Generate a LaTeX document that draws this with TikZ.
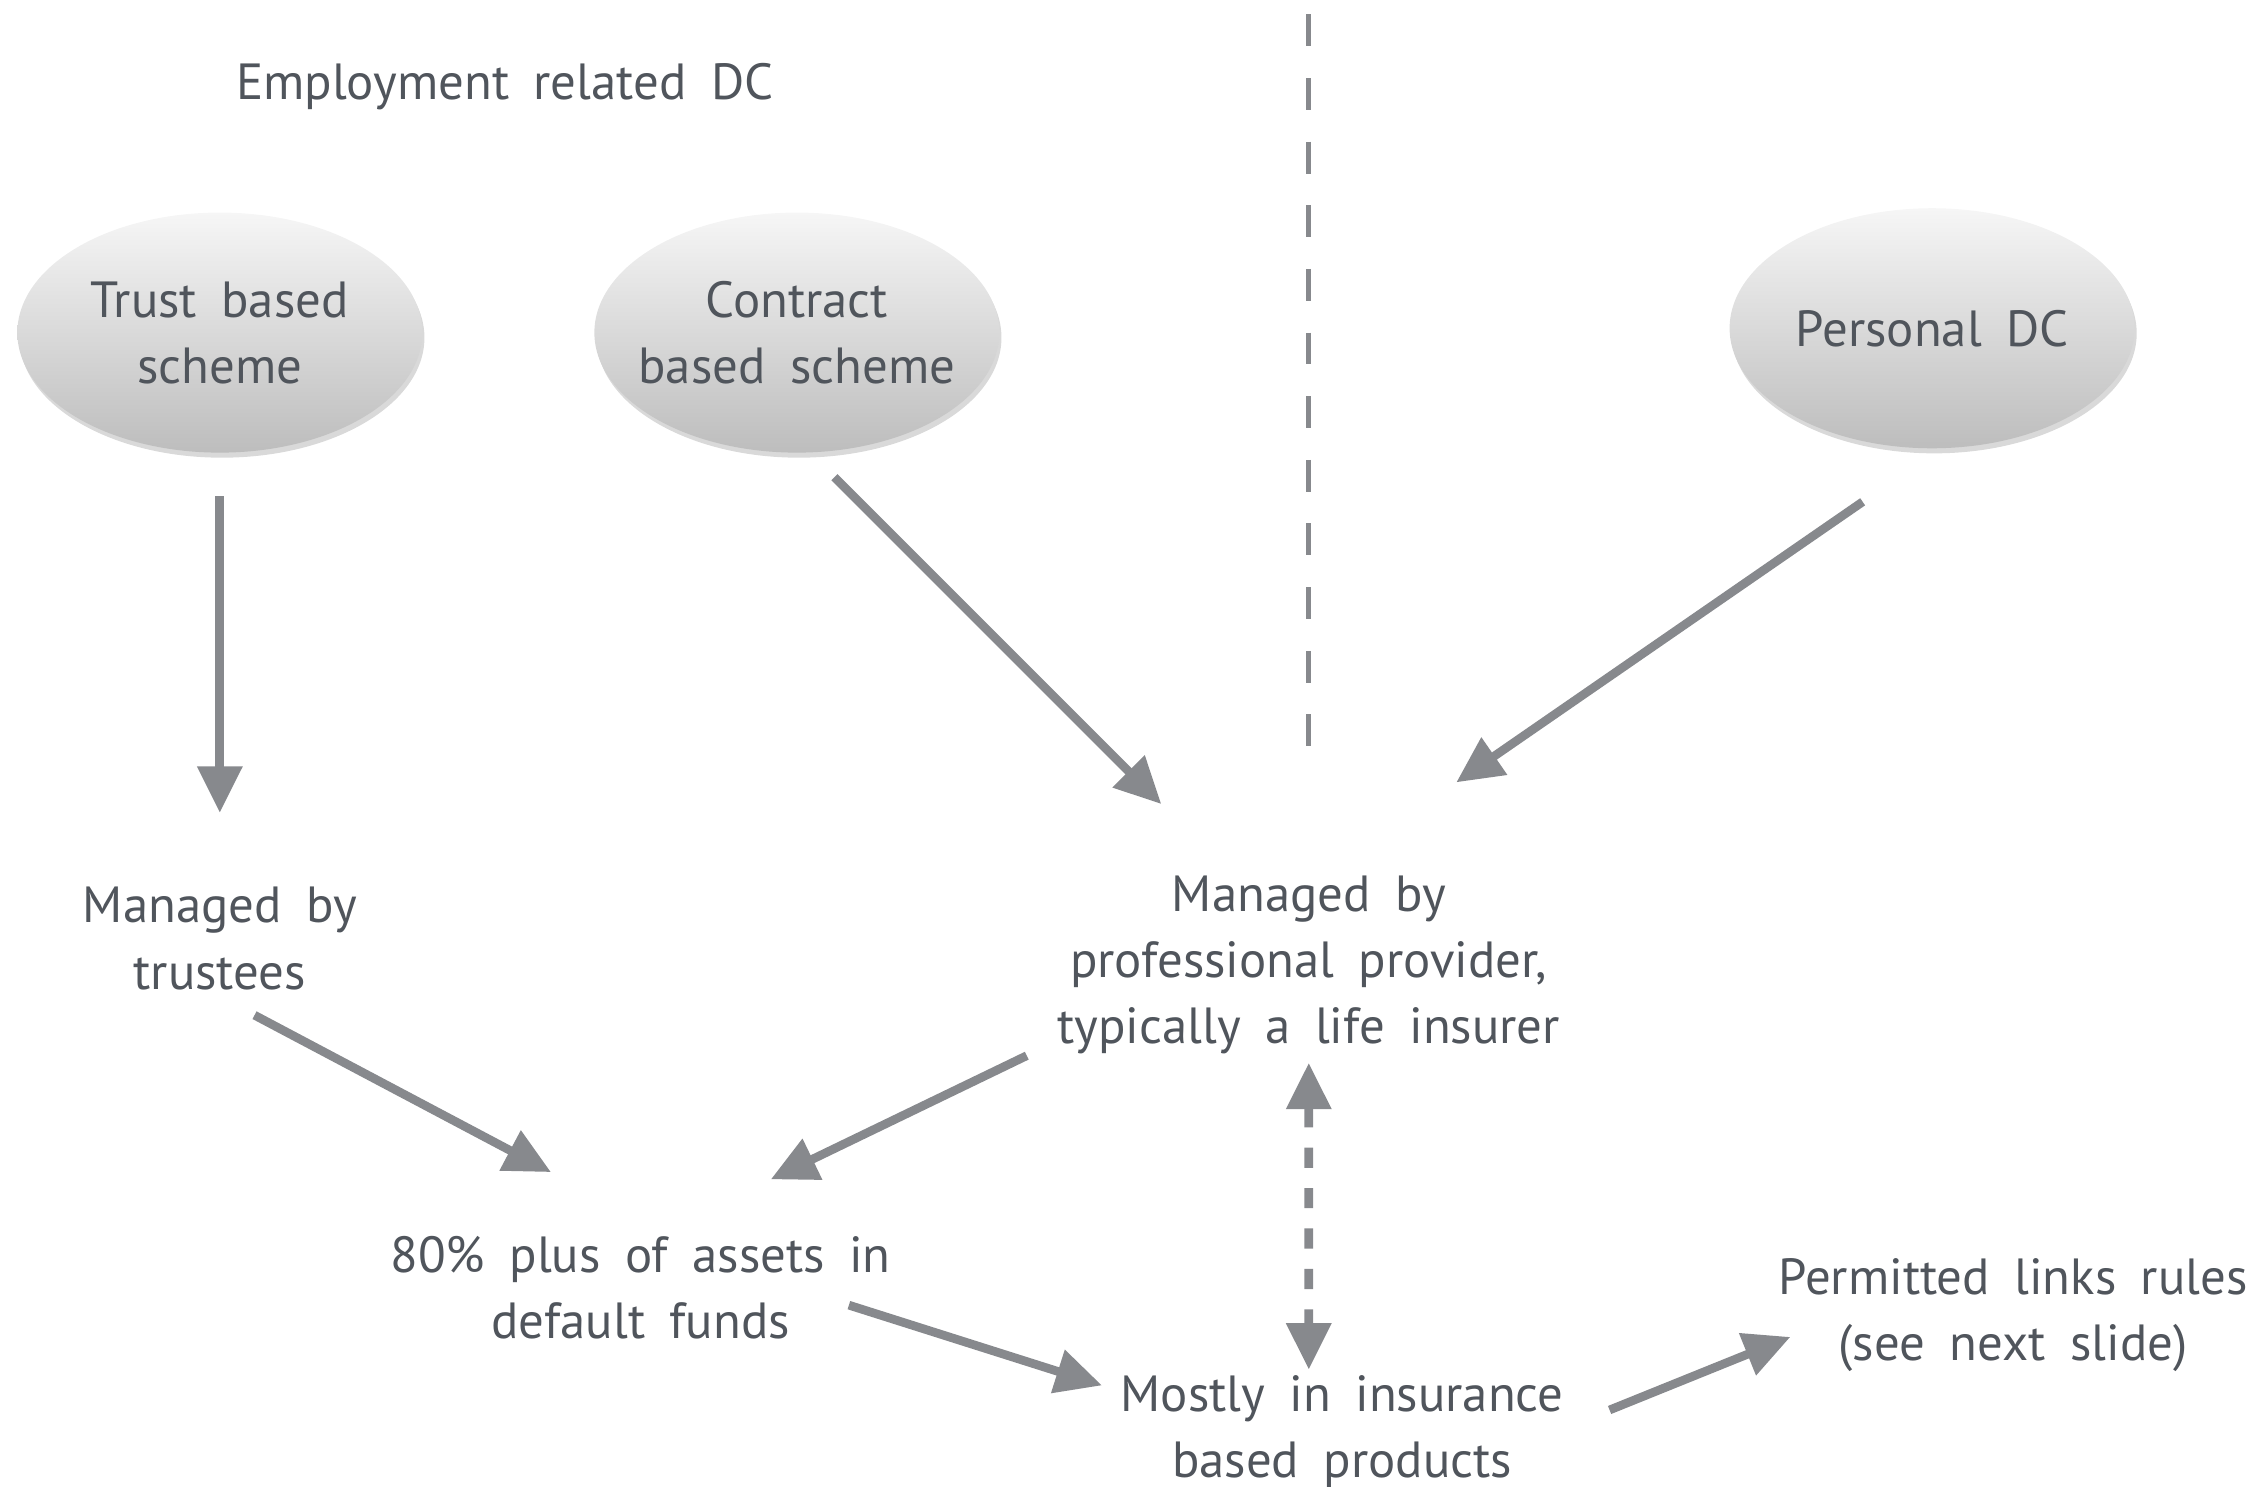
\documentclass[tikz,border=0pt]{standalone}
\usepackage{fontspec}
\setmainfont{PT Sans}[WordSpace=1.8]
\usetikzlibrary{arrows.meta,shadows,shapes.geometric}
\definecolor{txtgray}{HTML}{50555C}
\definecolor{arrgray}{HTML}{87898D}
\definecolor{ovtop}{HTML}{F6F6F6}
\definecolor{ovbot}{HTML}{BDBDBD}

\begin{document}
\begin{tikzpicture}[
		font=\fontsize{20}{26}\selectfont, text=txtgray,
		oval/.style={ellipse, minimum width=5.6cm, minimum height=3.32cm, inner xsep=-0.5cm, inner ysep=0pt, outer sep=0pt,
			top color=ovtop, bottom color=ovbot, align=center,
			drop shadow={opacity=0.3, shadow xshift=0.03cm, shadow yshift=-0.07cm}},
		txt/.style={align=center},
		arr/.style={draw=arrgray, line width=0.12cm, -{Triangle[length=0.64cm,width=0.6cm]}},
		dblarr/.style={arr, {Triangle[length=0.64cm,width=0.6cm]}-{Triangle[length=0.64cm,width=0.6cm]}, dash pattern=on 0.28cm off 0.28cm}
	]
		\useasboundingbox (0,0) rectangle (31.2,20.56);
		% divider
		\coordinate (top) at (18.1,20.36);
		\coordinate (bot) at (18.1,10.16);
		\draw[arrgray, line width=0.07cm, dash pattern=on 0.44cm off 0.44cm] (top) -- (bot);
		% headings and schemes
		\node[txt] (title) at (6.98,19.36) {Employment related DC};
		\node[oval] (trust) at (3.04,15.96) {Trust based\\scheme};
		\node[oval] (contract) at (11.02,15.96) {Contract\\based scheme};
		\node[oval] (personal) at (26.72,16.02) {Personal DC};
		% text boxes
		\node[txt] (mtrust) at (3.04,7.58) {Managed by\\trustees};
		\node[txt] (mprof) at (18.1,7.22) {Managed by\\professional provider,\\typically a life insurer};
		\node[txt] (assets) at (8.86,2.75) {80\% plus of assets in\\default funds};
		\node[txt] (mostly) at (18.56,0.76) {Mostly in insurance\\based products};
		\node[txt] (links) at (27.84,2.37) {Permitted links rules\\(see next slide)};
		% arrows
		\draw[arr] ([yshift=-0.6cm]trust.south) -- ([yshift=1.74cm]mtrust.center);
		\draw[arr] ([shift={(0.52,-0.34)}]contract.south) -- ([shift={(-2.04,2.22)}]mprof.center);
		\draw[arr] ([shift={(-0.96,-0.74)}]personal.south) -- ([shift={(2.04,2.52)}]mprof.center);
		\draw[arr] ([shift={(0.48,-1.06)}]mtrust.center) -- ([shift={(-1.24,1.6)}]assets.center);
		\draw[arr] ([shift={(-3.9,-1.26)}]mprof.center) -- ([shift={(1.8,1.5)}]assets.center);
		\draw[dblarr] ([yshift=-1.36cm]mprof.center) -- ([shift={(-0.46,0.86)}]mostly.center);
		\draw[arr] ([shift={(2.88,-0.24)}]assets.center) -- ([shift={(-3.32,0.64)}]mostly.center);
		\draw[arr] ([shift={(3.7,0.3)}]mostly.center) -- ([shift={(-3.08,-0.3)}]links.center);
	\end{tikzpicture}
\end{document}
